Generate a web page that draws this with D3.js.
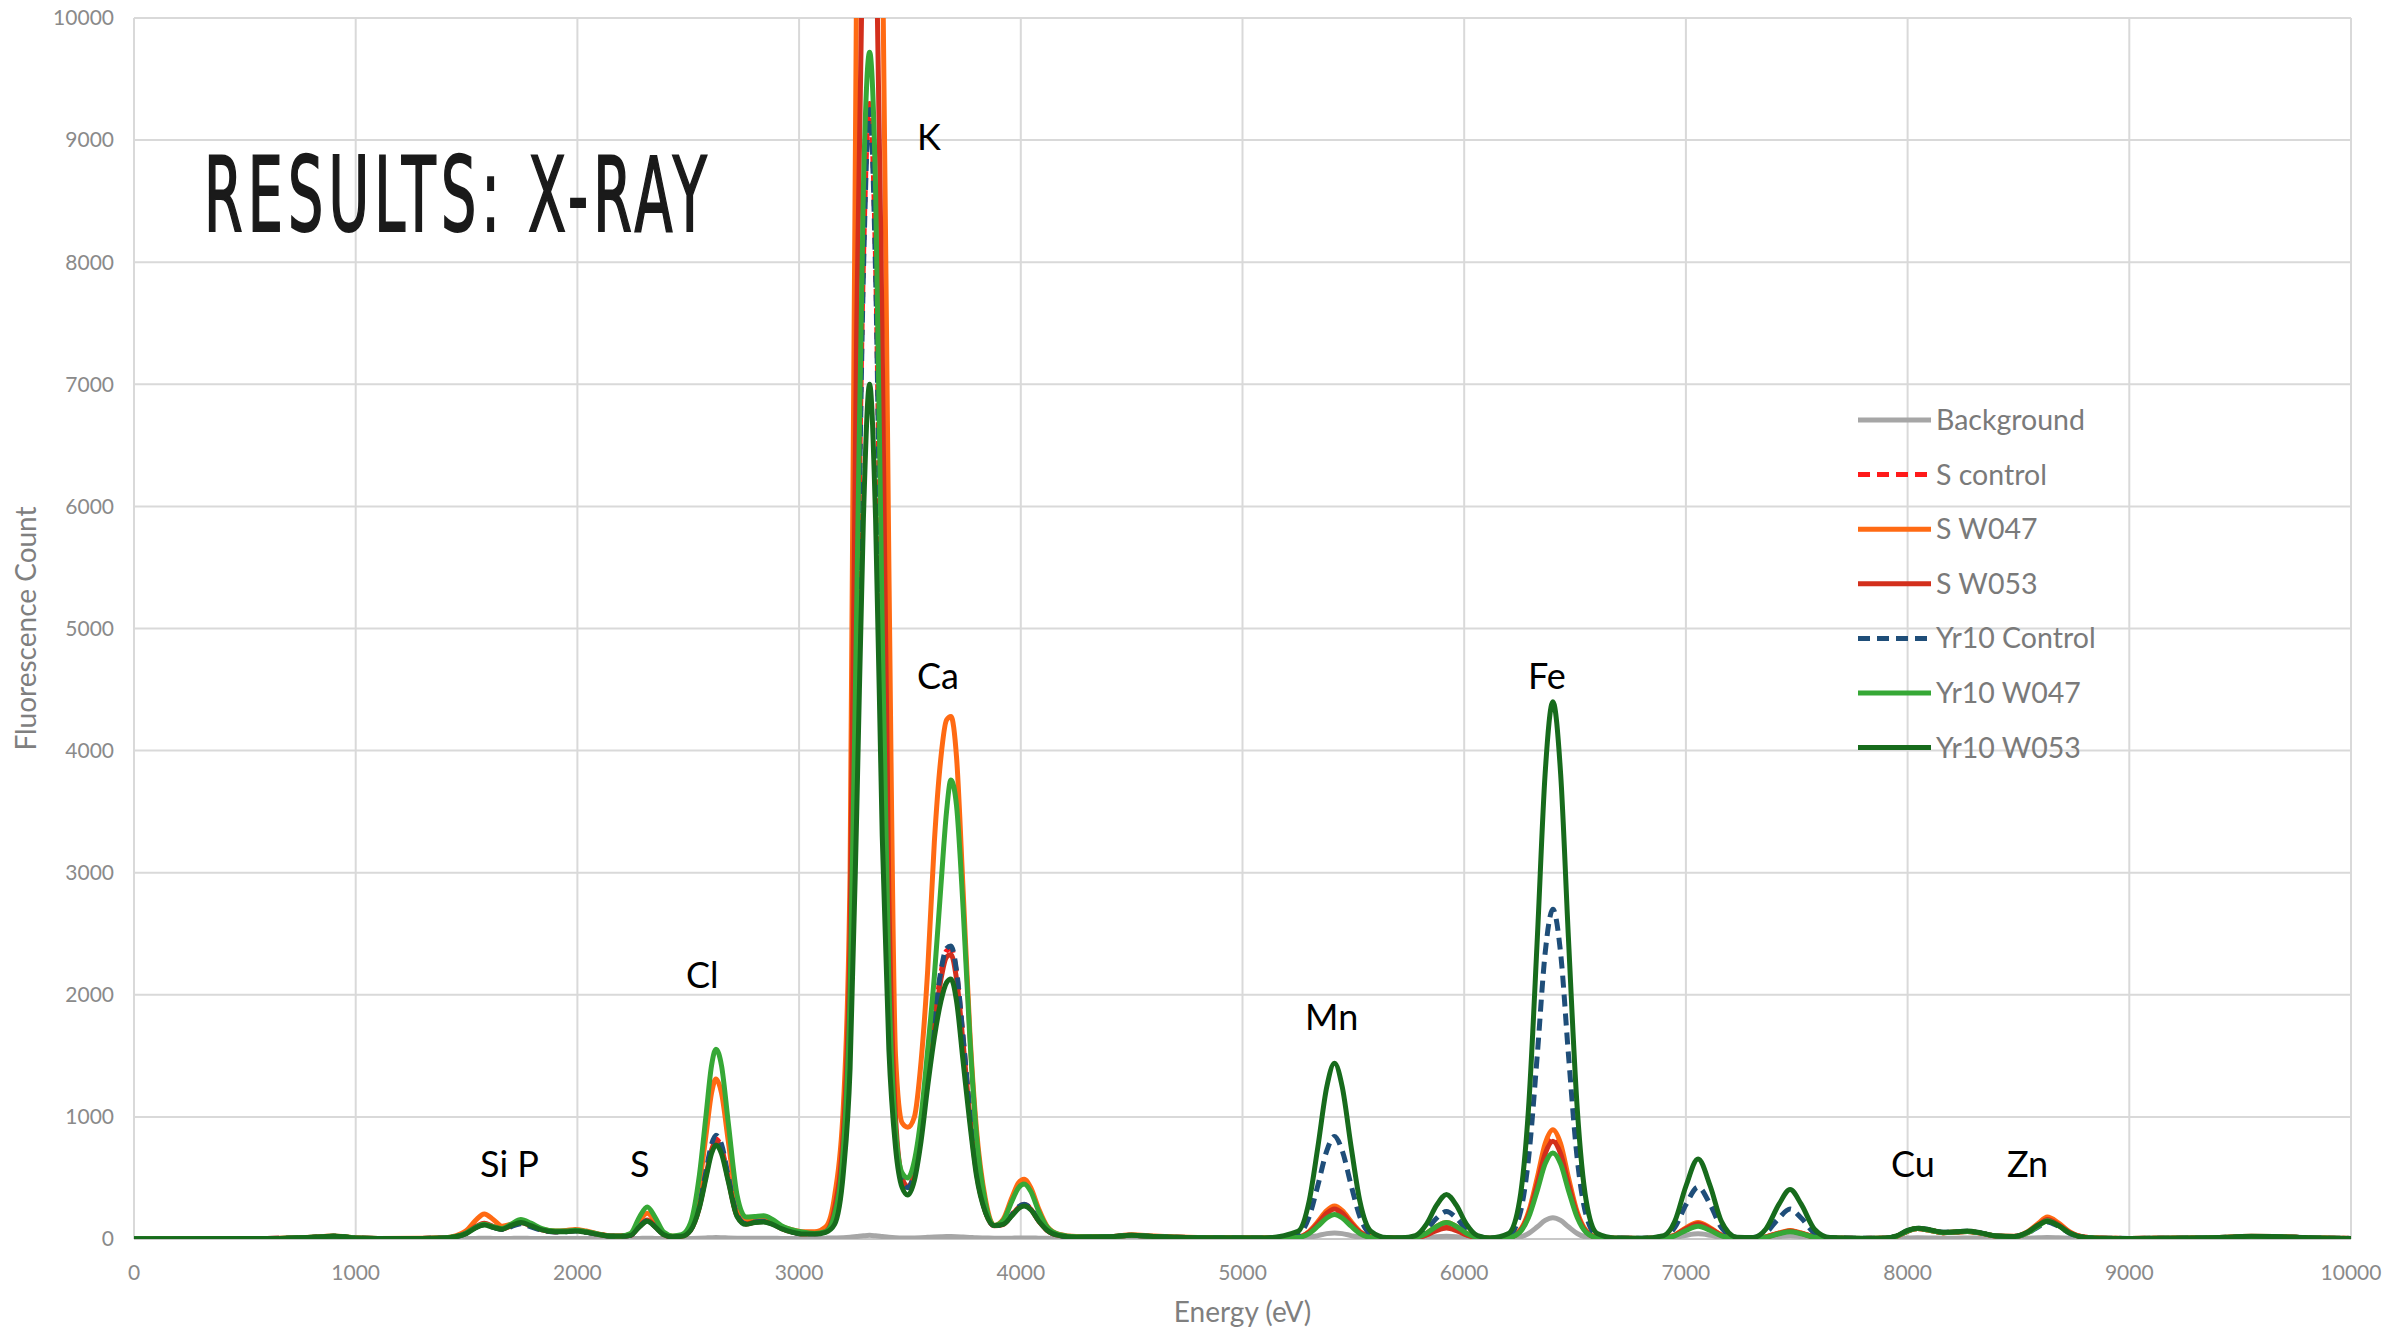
<!DOCTYPE html>
<head>
<meta charset="utf-8">
<title>Results: X-ray</title>
<style>
body { margin: 0; background: #fff; }
.grid line { stroke: #d9d9d9; stroke-width: 2px; }
.tick-label { fill: #8a8a8a; font: 21px Lato, sans-serif; }
.axis-title { fill: #7f7f7f; font: 28px Lato, sans-serif; }
.legend text { fill: #7a7a7a; font: 28.5px Lato, sans-serif; }
.peak { fill: #000; font: 36px Lato, sans-serif; }
path.series { fill: none; stroke-width: 5px; stroke-linejoin: round; }
</style>
</head>
<body>
<script src="https://cdn.jsdelivr.net/npm/d3@7"></script>
<script>

// energy grid (eV), denser around the peaks
var energy = [
  0, 600, 700, 800, 850, 900, 950, 1000, 1100, 1300, 1400,
  1450, 1500, 1540, 1580, 1620, 1660, 1700, 1745, 1790, 1840, 1900, 1950, 1990, 2040, 2100, 2150, 2200,
  2240, 2280, 2315, 2350, 2390, 2430, 2470, 2510, 2550, 2580, 2605, 2625, 2650, 2680, 2720, 2760, 2800, 2840, 2880, 2920, 2970, 3020, 3070, 3120,
  3160, 3200, 3230, 3260, 3290, 3318, 3345, 3375, 3405, 3435, 3465, 3490, 3520, 3550, 3580, 3610, 3640, 3665, 3685, 3710, 3740, 3770, 3800, 3840, 3880, 3920, 3960, 3990, 4015, 4045, 4080, 4120, 4170, 4250,
  4400, 4500, 4600, 4800, 5100,
  5250, 5300, 5340, 5380, 5415, 5450, 5490, 5530, 5580, 5650,
  5720, 5780, 5830, 5875, 5920, 5965, 6010, 6060,
  6120, 6200, 6250, 6290, 6330, 6365, 6400, 6435, 6470, 6510, 6550, 6600, 6680,
  6800, 6900, 6950, 7000, 7055, 7110, 7160, 7230,
  7300, 7360, 7420, 7470, 7520, 7580, 7650, 7800,
  7900, 7950, 8000, 8045, 8100, 8160, 8220, 8270, 8330, 8400, 8480, 8540, 8590, 8630, 8680, 8730, 8800, 8900,
  9000, 9300, 9450, 9550, 9650, 9750, 9850, 10000
];

var background = [
  2,2,2,2,2,3,2,2,2,2,2,
  3,4,5,6,5,4,5,6,5,4,4,4,5,4,4,4,4,
  4,5,6,5,4,4,4,5,7,9,11,12,11,9,7,6,6,6,6,5,5,5,6,7,
  8,10,14,20,26,30,26,20,14,10,8,8,9,11,14,17,19,20,20,19,16,13,10,8,6,6,7,8,8,8,7,6,5,5,
  5,6,5,5,5,
  7,14,28,44,50,44,28,14,7,4,
  4,5,10,18,22,18,10,5,
  4,5,15,45,100,152,175,152,100,45,15,5,4,
  4,6,12,30,42,30,12,5,
  5,8,19,26,19,8,5,4,
  4,5,8,10,9,7,7,8,7,5,5,7,10,12,10,7,5,4,
  4,4,5,6,6,5,4,4
];

var sControl = [
  2,4,7,13,18,22,17,8,5,5,9,
  20,50,95,125,100,80,105,130,105,75,60,62,70,58,36,24,24,
  30,103,150,103,36,18,23,74,270,535,745,820,745,505,195,125,140,145,125,88,57,42,42,65,
  170,700,1850,4800,8000,9300,8000,4400,1900,830,480,425,550,890,1350,1790,2180,2360,2380,2180,1640,1040,560,230,110,120,200,262,282,248,152,70,30,15,
  18,30,20,11,9,
  15,54,126,206,240,206,126,54,15,8,
  8,11,36,77,100,77,36,11,
  6,12,63,205,470,723,830,723,470,205,63,12,6,
  5,9,31,84,125,84,31,7,
  6,16,47,65,47,16,7,5,
  6,22,65,85,72,52,57,62,48,24,20,50,110,155,115,52,14,6,
  5,8,14,20,18,14,8,5
];

var sW047 = [
  2,5,8,15,20,25,19,9,5,6,10,
  25,70,150,205,160,105,120,150,120,80,65,70,78,65,40,25,25,
  40,145,210,145,45,22,30,110,440,850,1195,1310,1195,810,300,160,170,175,150,105,75,60,60,100,
  350,1100,3000,10500,13500,14000,13500,10800,5500,1500,950,915,1000,1450,2200,3250,3950,4250,4280,3950,2850,1700,900,330,110,160,340,460,490,420,250,100,40,20,
  20,35,24,13,10,
  17,61,143,233,270,233,143,61,17,8,
  8,13,47,103,135,103,47,13,
  6,13,68,220,505,780,895,780,505,220,68,13,6,
  5,10,33,91,135,91,33,7,
  6,17,50,70,50,17,7,5,
  6,22,65,85,72,52,57,62,48,24,22,58,128,180,133,60,15,6,
  5,8,15,22,20,15,8,5
];

var sW053 = [
  2,4,7,13,18,22,17,8,5,5,9,
  20,52,100,130,102,82,108,135,108,76,60,63,70,58,36,24,24,
  31,106,155,106,37,18,23,72,262,520,728,800,728,490,190,123,138,143,123,86,56,42,42,62,
  250,900,2500,7500,11000,12000,11000,7300,2800,1000,500,430,540,870,1320,1750,2130,2310,2330,2130,1600,1010,545,225,108,118,196,258,278,244,150,70,30,15,
  18,30,20,11,9,
  15,55,128,211,245,211,128,55,15,8,
  7,10,33,69,90,69,33,10,
  6,12,61,198,455,697,800,697,455,198,61,12,6,
  5,9,31,84,125,84,31,7,
  6,16,47,65,47,16,7,5,
  6,22,65,85,72,52,57,62,48,24,20,52,115,160,118,54,14,6,
  5,8,14,20,18,14,8,5
];

var yr10Control = [
  2,4,7,13,18,22,17,8,5,5,9,
  18,48,92,118,95,78,100,125,100,72,58,60,66,55,35,22,22,
  30,103,150,103,36,18,24,76,280,555,775,850,775,520,200,125,140,145,125,88,57,42,42,60,
  160,680,1800,4700,7900,9250,7900,4400,1900,820,470,420,540,880,1350,1800,2200,2380,2400,2200,1650,1050,570,230,110,120,200,265,285,250,155,72,30,15,
  18,30,20,11,9,
  38,180,440,722,840,722,440,180,38,10,
  9,20,76,170,225,170,76,20,
  8,28,195,655,1515,2340,2700,2340,1515,655,195,28,8,
  6,20,95,280,425,280,95,12,
  10,50,172,245,172,50,10,6,
  7,24,68,88,75,55,60,64,50,25,20,48,100,140,104,48,13,6,
  5,8,14,20,18,14,8,5
];

var yr10W047 = [
  2,4,8,14,19,24,18,8,5,5,9,
  20,50,95,120,100,85,120,160,130,85,65,65,72,60,38,25,25,
  45,180,262,180,55,25,35,130,520,1010,1420,1555,1420,960,360,180,185,190,160,110,75,55,45,60,
  200,750,2000,5200,8600,9720,8600,5000,2100,900,540,500,640,1000,1550,2150,2900,3500,3760,3550,2700,1650,850,300,110,150,310,420,450,390,230,95,38,18,
  18,30,20,11,9,
  13,45,105,172,200,172,105,45,13,7,
  8,13,47,103,135,103,47,13,
  6,11,54,175,400,615,705,615,400,175,54,11,6,
  5,8,26,70,104,70,26,7,
  6,15,43,60,43,15,7,5,
  6,22,65,85,72,52,57,62,48,24,20,50,106,150,110,50,13,6,
  5,8,14,20,18,14,8,5
];

var yr10W053 = [
  2,4,8,14,19,23,18,8,5,5,9,
  18,45,90,115,95,80,110,135,110,75,60,60,65,55,35,22,22,
  30,100,145,100,35,18,22,70,255,500,700,770,700,475,185,120,135,140,120,85,55,40,40,55,
  120,550,1400,3500,5900,7000,5900,3300,1550,750,420,360,480,800,1250,1650,1950,2100,2130,1950,1450,950,520,220,110,120,190,250,270,240,150,70,30,15,
  18,30,20,11,9,
  62,305,755,1245,1440,1245,755,305,62,12,
  10,28,122,275,365,275,122,28,
  9,45,315,1065,2470,3810,4400,3810,2470,1065,315,45,9,
  7,28,145,432,655,432,145,15,
  12,80,285,405,285,80,12,6,
  8,25,70,88,75,55,60,65,50,25,20,55,115,145,110,50,12,5,
  5,8,15,22,20,15,8,5
];

var seriesNames  = ["Background", "S control", "S W047", "S W053", "Yr10 Control", "Yr10 W047", "Yr10 W053"];
var seriesValues = [background, sControl, sW047, sW053, yr10Control, yr10W047, yr10W053];
var seriesColors = ["#a6a6a6", "#ff1a1a", "#ff6a13", "#d32f1c", "#1f4e79", "#36a836", "#176b1c"];
var seriesDashed = [false, true, false, false, true, false, false];

var xTicks = [0, 1000, 2000, 3000, 4000, 5000, 6000, 7000, 8000, 9000, 10000];
var yTicks = [0, 1000, 2000, 3000, 4000, 5000, 6000, 7000, 8000, 9000, 10000];

// element labels: [text, energy at left edge, count at baseline]
var peakLabels = [
  ["Si P", 1561, 508], ["S", 2237, 508], ["Cl", 2490, 2056], ["K", 3532, 8920],
  ["Ca", 3532, 4505], ["Mn", 5282, 1712], ["Fe", 6288, 4505],
  ["Cu", 7925, 508], ["Zn", 8448, 508]
];

var width = 2384,
    height = 1331;
var margin = {left: 134, right: 33, top: 18, bottom: 92};

var svg = d3.select("body").append("svg")
    .attr("width", width)
    .attr("height", height);

var x = d3.scaleLinear().domain([0, 10000]).range([margin.left, width - margin.right]);
var y = d3.scaleLinear().domain([0, 10000]).range([height - margin.bottom, margin.top]);

// grid
var grid = svg.append("g").attr("class", "grid");
grid.selectAll(".v").data(xTicks).enter().append("line")
    .attr("x1", d => x(d)).attr("x2", d => x(d))
    .attr("y1", y(10000)).attr("y2", y(0));
grid.selectAll(".h").data(yTicks).enter().append("line")
    .attr("x1", x(0)).attr("x2", x(10000))
    .attr("y1", d => y(d)).attr("y2", d => y(d));
grid.append("line").attr("x1", x(0)).attr("x2", x(10000))
    .attr("y1", y(0)).attr("y2", y(0)).style("stroke", "#c8c8c8");

// tick labels
svg.append("g").selectAll("text").data(yTicks).enter().append("text")
    .attr("class", "tick-label")
    .attr("x", x(0) - 20)
    .attr("y", d => y(d))
    .attr("dy", "0.35em")
    .attr("text-anchor", "end")
    .text(d => d);
svg.append("g").selectAll("text").data(xTicks).enter().append("text")
    .attr("class", "tick-label")
    .attr("x", d => x(d))
    .attr("y", y(0) + 41)
    .attr("text-anchor", "middle")
    .text(d => d);

// axis titles
svg.append("text").attr("class", "axis-title")
    .attr("x", (x(0) + x(10000)) / 2)
    .attr("y", 1322)
    .attr("text-anchor", "middle")
    .text("Energy (eV)");
svg.append("text").attr("class", "axis-title")
    .attr("transform", "translate(36," + ((y(0) + y(10000)) / 2) + ") rotate(-90)")
    .attr("text-anchor", "middle")
    .text("Fluorescence Count");

// lines
svg.append("clipPath").attr("id", "plot-clip")
  .append("rect")
    .attr("x", x(0)).attr("y", y(10000))
    .attr("width", x(10000) - x(0)).attr("height", y(0) - y(10000));

var line = d3.line()
    .x((d, i) => x(energy[i]))
    .y(d => y(d))
    .curve(d3.curveMonotoneX);

seriesValues.forEach(function(vals, k) {
  if (vals.length != energy.length) console.error(seriesNames[k] + " has " + vals.length + " values");
});

svg.append("g").attr("clip-path", "url(#plot-clip)")
  .selectAll("path").data(seriesValues).enter().append("path")
    .attr("class", "series")
    .attr("d", d => line(d))
    .style("stroke", (d, i) => seriesColors[i])
    .style("stroke-dasharray", (d, i) => seriesDashed[i] ? "12,7" : null);

// legend
var legend = svg.append("g").attr("class", "legend");
var row = legend.selectAll("g").data(seriesNames).enter().append("g")
    .attr("transform", (d, i) => "translate(1858," + (420 + i * 54.6) + ")");
row.append("line")
    .attr("x1", 0).attr("x2", 73)
    .style("stroke", (d, i) => seriesColors[i])
    .style("stroke-width", 5)
    .style("stroke-dasharray", (d, i) => seriesDashed[i] ? "12,7" : null);
row.append("text")
    .attr("x", 78)
    .attr("dy", "0.35em")
    .text(d => d);

// element labels
svg.append("g").selectAll("text").data(peakLabels).enter().append("text")
    .attr("class", "peak")
    .attr("x", d => x(d[1]))
    .attr("y", d => y(d[2]))
    .text(d => d[0]);

// title
svg.append("text")
    .attr("transform", "translate(204,231) scale(0.6,1)")
    .attr("textLength", 838)
    .attr("lengthAdjust", "spacing")
    .style("font-family", "'Liberation Sans Narrow', 'DejaVu Sans Condensed', sans-serif")
    .style("font-size", "103px")
    .style("fill", "#1a1a1a")
    .style("stroke", "#1a1a1a")
    .style("stroke-width", "2px")
    .text("RESULTS: X-RAY");

</script>
</body>
</html>
